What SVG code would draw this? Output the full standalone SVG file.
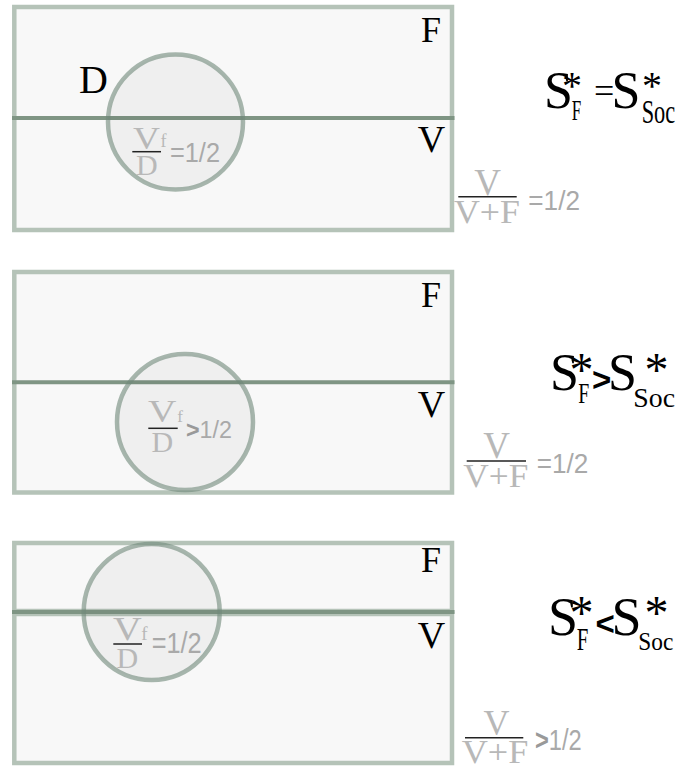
<svg xmlns="http://www.w3.org/2000/svg" width="679" height="769" viewBox="0 0 679 769">
<style>
.box{fill:#f8f8f8;stroke:#b5c3b8;stroke-width:4.5}
.div{stroke:#7f9584;stroke-width:4;fill:none}
.circ{fill:#000;fill-opacity:0.035;stroke:#70897a;stroke-opacity:0.6;stroke-width:4.5}
.s{font-family:"Liberation Serif","Times New Roman",serif;fill:#000}
.g{font-family:"Liberation Serif","Times New Roman",serif;fill:#b8b8b8}
.h{font-family:"Liberation Sans",Arial,sans-serif;fill:#a9a9a9}
.hb{font-family:"Liberation Sans",Arial,sans-serif;font-weight:bold;fill:#000}
.gt{font-weight:bold;fill:#999}
.bar{stroke:#222;stroke-width:1.5}
</style>
<rect width="679" height="769" fill="#fff"/>
<g id="panel1">
<rect class="box" x="14.3" y="7" width="437.7" height="223"/>
<line class="div" x1="12" y1="118" x2="454.5" y2="118"/>
<circle class="circ" cx="175.5" cy="122" r="67.5"/>
<text class="s" x="79" y="93" font-size="40">D</text>
<text class="s" x="421" y="41.7" font-size="36">F</text>
<text class="s" x="417.7" y="151.7" font-size="38">V</text>
<text class="g" x="133" y="148.5" font-size="32" textLength="27" lengthAdjust="spacingAndGlyphs">V</text>
<text class="g" x="160.5" y="147" font-size="18">f</text>
<line class="bar" x1="132.3" y1="151.7" x2="161" y2="151.7"/>
<text class="g" x="136" y="175" font-size="30">D</text>
<text class="h" x="170" y="161.7" font-size="27" textLength="50" lengthAdjust="spacingAndGlyphs">=1/2</text>
<text class="g" x="487.5" y="195" font-size="37" text-anchor="middle">V</text>
<line class="bar" x1="458.3" y1="196.7" x2="516.7" y2="196.7"/>
<text class="g" x="454" y="222.7" font-size="33" textLength="66" lengthAdjust="spacingAndGlyphs">V+F</text>
<text class="h" x="528.3" y="210" font-size="27" textLength="51.7" lengthAdjust="spacingAndGlyphs">=1/2</text>
<text class="s" x="544" y="107.5" font-size="52">S</text>
<text class="s" x="562" y="99" font-size="40">*</text>
<text class="s" x="571.7" y="120" font-size="29" textLength="9.5" lengthAdjust="spacingAndGlyphs">F</text>
<text class="s" x="594" y="103" font-size="36">=</text>
<text class="s" x="611.5" y="107.5" font-size="52">S</text>
<text class="s" x="642" y="99" font-size="40">*</text>
<text class="s" x="641.7" y="123" font-size="33" textLength="33.5" lengthAdjust="spacingAndGlyphs">Soc</text>
</g>
<g id="panel2">
<rect class="box" x="14.3" y="272" width="437.7" height="220.5"/>
<line class="div" x1="12" y1="382.3" x2="454.5" y2="382.3"/>
<circle class="circ" cx="185" cy="422" r="68"/>
<text class="s" x="421" y="306.7" font-size="36">F</text>
<text class="s" x="417.7" y="416.7" font-size="38">V</text>
<text class="g" x="148" y="421.7" font-size="31" textLength="28.4" lengthAdjust="spacingAndGlyphs">V</text>
<text class="g" x="177.2" y="421.7" font-size="17">f</text>
<line class="bar" x1="148.3" y1="428.3" x2="177.7" y2="428.3"/>
<text class="g" x="151.5" y="451.7" font-size="30">D</text>
<text class="h" x="186" y="438.3" font-size="23" textLength="46" lengthAdjust="spacingAndGlyphs"><tspan class="gt">&gt;</tspan>1/2</text>
<text class="g" x="496.5" y="458.3" font-size="37" text-anchor="middle">V</text>
<line class="bar" x1="466.7" y1="461" x2="526" y2="461"/>
<text class="g" x="463.3" y="486.7" font-size="33" textLength="65" lengthAdjust="spacingAndGlyphs">V+F</text>
<text class="h" x="536.7" y="473.3" font-size="27" textLength="51.6" lengthAdjust="spacingAndGlyphs">=1/2</text>
<text class="s" x="550" y="389.5" font-size="52">S</text>
<text class="s" x="569.5" y="386" font-size="48">*</text>
<text class="s" x="578.3" y="403.3" font-size="29" textLength="11" lengthAdjust="spacingAndGlyphs">F</text>
<text class="hb" x="592" y="391" font-size="33">&gt;</text>
<text class="s" x="608" y="389.5" font-size="52">S</text>
<text class="s" x="644.5" y="386" font-size="48">*</text>
<text class="s" x="633.3" y="406.7" font-size="27" textLength="41.7" lengthAdjust="spacingAndGlyphs">Soc</text>
</g>
<g id="panel3">
<rect class="box" x="14.3" y="543" width="437.7" height="68"/>
<rect class="box" x="14.3" y="614" width="437.7" height="149"/>
<line class="div" x1="12" y1="612" x2="454.5" y2="612"/>
<circle class="circ" cx="151.7" cy="612" r="68"/>
<text class="s" x="421" y="571.7" font-size="36">F</text>
<text class="s" x="417.7" y="648.3" font-size="38">V</text>
<text class="g" x="113" y="640" font-size="33" textLength="28.7" lengthAdjust="spacingAndGlyphs">V</text>
<text class="g" x="141.2" y="640" font-size="19">f</text>
<line class="bar" x1="113.3" y1="644" x2="142" y2="644"/>
<text class="g" x="116.5" y="668.3" font-size="30">D</text>
<text class="h" x="151.7" y="653.3" font-size="29" textLength="50" lengthAdjust="spacingAndGlyphs">=1/2</text>
<text class="g" x="496.5" y="735" font-size="36" text-anchor="middle">V</text>
<line class="bar" x1="465" y1="737.7" x2="523.3" y2="737.7"/>
<text class="g" x="461.7" y="763.3" font-size="33" textLength="66.6" lengthAdjust="spacingAndGlyphs">V+F</text>
<text class="h" x="535" y="750" font-size="29" textLength="46.7" lengthAdjust="spacingAndGlyphs"><tspan class="gt">&gt;</tspan>1/2</text>
<text class="s" x="548" y="634.5" font-size="54">S</text>
<text class="s" x="569.5" y="629" font-size="48">*</text>
<text class="s" x="576.7" y="650" font-size="31" textLength="11.6" lengthAdjust="spacingAndGlyphs">F</text>
<text class="hb" x="595.5" y="635" font-size="33">&lt;</text>
<text class="s" x="611.5" y="634.5" font-size="54">S</text>
<text class="s" x="644.5" y="629" font-size="48">*</text>
<text class="s" x="638.3" y="650" font-size="26" textLength="35" lengthAdjust="spacingAndGlyphs">Soc</text>
</g>
<g id="connectors"/>
</svg>
